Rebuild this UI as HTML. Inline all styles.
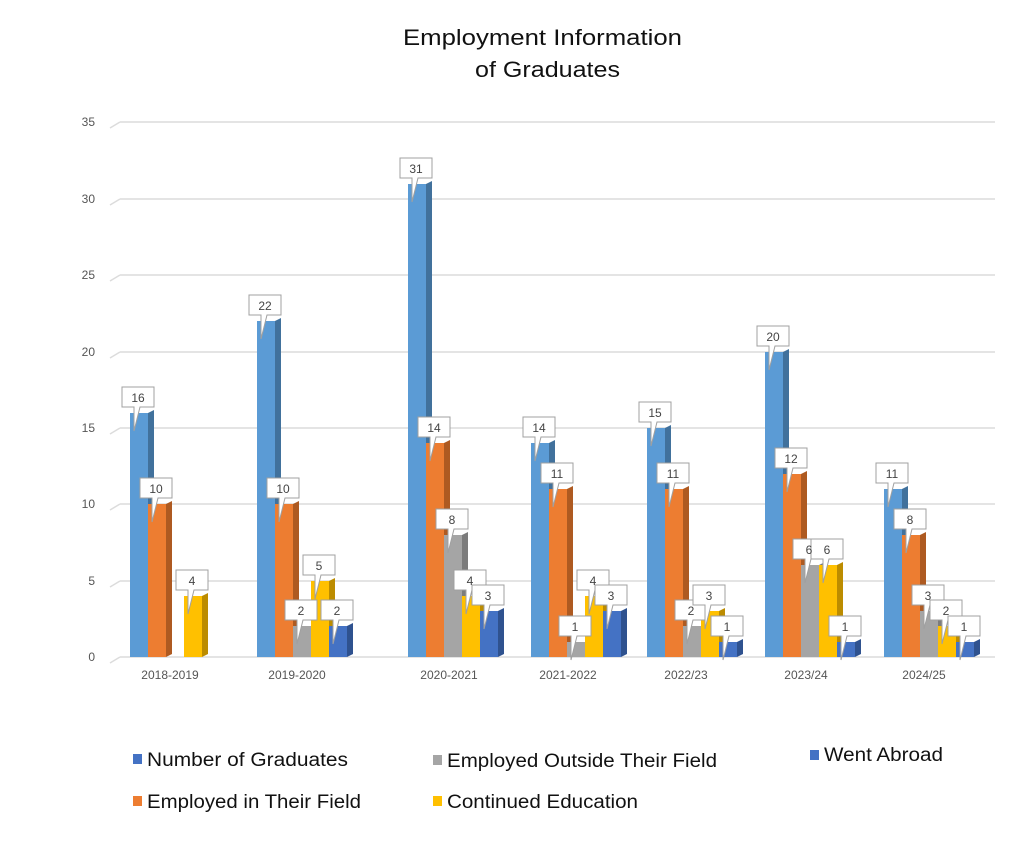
<!DOCTYPE html>
<html><head><meta charset="utf-8"><style>
body{margin:0;background:#fff;width:1036px;height:845px;overflow:hidden;font-family:"Liberation Sans",sans-serif}
</style></head><body>
<svg width="1036" height="845" viewBox="0 0 1036 845" xmlns="http://www.w3.org/2000/svg" font-family="Liberation Sans, sans-serif">
<defs>
<path id="co" d="M-8,-26 h32 v20 h-14 l-6,24 l0,-24 h-12 z" fill="#fff" stroke="#a0a0a0" stroke-width="1"/>
</defs>
<text x="403" y="45" font-size="22" fill="#111" textLength="279" lengthAdjust="spacingAndGlyphs">Employment Information</text>
<text x="475" y="77" font-size="22" fill="#111" textLength="145" lengthAdjust="spacingAndGlyphs">of Graduates</text>
<g stroke="#dcdcdc" stroke-width="1.5" fill="none">
<path d="M120,657H995M110,663L120,657"/><path d="M120,581H995M110,587L120,581"/><path d="M120,504H995M110,510L120,504"/><path d="M120,428H995M110,434L120,428"/><path d="M120,352H995M110,358L120,352"/><path d="M120,275H995M110,281L120,275"/><path d="M120,199H995M110,205L120,199"/><path d="M120,122H995M110,128L120,122"/>
</g>
<g font-size="12" fill="#555" text-anchor="end">
<text x="95" y="661">0</text><text x="95" y="585">5</text><text x="95" y="508">10</text><text x="95" y="432">15</text><text x="95" y="356">20</text><text x="95" y="279">25</text><text x="95" y="203">30</text><text x="95" y="126">35</text>
</g>
<g font-size="12" fill="#555" text-anchor="middle">
<text x="170" y="679">2018-2019</text><text x="297" y="679">2019-2020</text><text x="449" y="679">2020-2021</text><text x="568" y="679">2021-2022</text><text x="686" y="679">2022/23</text><text x="806" y="679">2023/24</text><text x="924" y="679">2024/25</text>
</g>
<g id="bars">
<polygon points="148,413 154,410 154,654 148,657" fill="#41719c"/><rect x="130" y="413" width="18" height="244" fill="#5b9bd5"/>
<polygon points="166,504 172,501 172,654 166,657" fill="#ae5a21"/><rect x="148" y="504" width="18" height="153" fill="#ed7d31"/>
<polygon points="202,596 208,593 208,654 202,657" fill="#bc8c00"/><rect x="184" y="596" width="18" height="61" fill="#ffc000"/>
<polygon points="275,321 281,318 281,654 275,657" fill="#41719c"/><rect x="257" y="321" width="18" height="336" fill="#5b9bd5"/>
<polygon points="293,504 299,501 299,654 293,657" fill="#ae5a21"/><rect x="275" y="504" width="18" height="153" fill="#ed7d31"/>
<polygon points="311,626 317,623 317,654 311,657" fill="#7c7c7c"/><rect x="293" y="626" width="18" height="31" fill="#a5a5a5"/>
<polygon points="329,581 335,578 335,654 329,657" fill="#bc8c00"/><rect x="311" y="581" width="18" height="76" fill="#ffc000"/>
<polygon points="347,626 353,623 353,654 347,657" fill="#2f528f"/><rect x="329" y="626" width="18" height="31" fill="#4472c4"/>
<polygon points="426,184 432,181 432,654 426,657" fill="#41719c"/><rect x="408" y="184" width="18" height="473" fill="#5b9bd5"/>
<polygon points="444,443 450,440 450,654 444,657" fill="#ae5a21"/><rect x="426" y="443" width="18" height="214" fill="#ed7d31"/>
<polygon points="462,535 468,532 468,654 462,657" fill="#7c7c7c"/><rect x="444" y="535" width="18" height="122" fill="#a5a5a5"/>
<polygon points="480,596 486,593 486,654 480,657" fill="#bc8c00"/><rect x="462" y="596" width="18" height="61" fill="#ffc000"/>
<polygon points="498,611 504,608 504,654 498,657" fill="#2f528f"/><rect x="480" y="611" width="18" height="46" fill="#4472c4"/>
<polygon points="549,443 555,440 555,654 549,657" fill="#41719c"/><rect x="531" y="443" width="18" height="214" fill="#5b9bd5"/>
<polygon points="567,489 573,486 573,654 567,657" fill="#ae5a21"/><rect x="549" y="489" width="18" height="168" fill="#ed7d31"/>
<polygon points="585,642 591,639 591,654 585,657" fill="#7c7c7c"/><rect x="567" y="642" width="18" height="15" fill="#a5a5a5"/>
<polygon points="603,596 609,593 609,654 603,657" fill="#bc8c00"/><rect x="585" y="596" width="18" height="61" fill="#ffc000"/>
<polygon points="621,611 627,608 627,654 621,657" fill="#2f528f"/><rect x="603" y="611" width="18" height="46" fill="#4472c4"/>
<polygon points="665,428 671,425 671,654 665,657" fill="#41719c"/><rect x="647" y="428" width="18" height="229" fill="#5b9bd5"/>
<polygon points="683,489 689,486 689,654 683,657" fill="#ae5a21"/><rect x="665" y="489" width="18" height="168" fill="#ed7d31"/>
<polygon points="701,626 707,623 707,654 701,657" fill="#7c7c7c"/><rect x="683" y="626" width="18" height="31" fill="#a5a5a5"/>
<polygon points="719,611 725,608 725,654 719,657" fill="#bc8c00"/><rect x="701" y="611" width="18" height="46" fill="#ffc000"/>
<polygon points="737,642 743,639 743,654 737,657" fill="#2f528f"/><rect x="719" y="642" width="18" height="15" fill="#4472c4"/>
<polygon points="783,352 789,349 789,654 783,657" fill="#41719c"/><rect x="765" y="352" width="18" height="305" fill="#5b9bd5"/>
<polygon points="801,474 807,471 807,654 801,657" fill="#ae5a21"/><rect x="783" y="474" width="18" height="183" fill="#ed7d31"/>
<polygon points="819,565 825,562 825,654 819,657" fill="#7c7c7c"/><rect x="801" y="565" width="18" height="92" fill="#a5a5a5"/>
<polygon points="837,565 843,562 843,654 837,657" fill="#bc8c00"/><rect x="819" y="565" width="18" height="92" fill="#ffc000"/>
<polygon points="855,642 861,639 861,654 855,657" fill="#2f528f"/><rect x="837" y="642" width="18" height="15" fill="#4472c4"/>
<polygon points="902,489 908,486 908,654 902,657" fill="#41719c"/><rect x="884" y="489" width="18" height="168" fill="#5b9bd5"/>
<polygon points="920,535 926,532 926,654 920,657" fill="#ae5a21"/><rect x="902" y="535" width="18" height="122" fill="#ed7d31"/>
<polygon points="938,611 944,608 944,654 938,657" fill="#7c7c7c"/><rect x="920" y="611" width="18" height="46" fill="#a5a5a5"/>
<polygon points="956,626 962,623 962,654 956,657" fill="#bc8c00"/><rect x="938" y="626" width="18" height="31" fill="#ffc000"/>
<polygon points="974,642 980,639 980,654 974,657" fill="#2f528f"/><rect x="956" y="642" width="18" height="15" fill="#4472c4"/>
</g>
<g>
<use href="#co" x="130" y="413"/><use href="#co" x="148" y="504"/><use href="#co" x="184" y="596"/>
<use href="#co" x="257" y="321"/><use href="#co" x="275" y="504"/><use href="#co" x="293" y="626"/><use href="#co" x="311" y="581"/><use href="#co" x="329" y="626"/>
<use href="#co" x="408" y="184"/><use href="#co" x="426" y="443"/><use href="#co" x="444" y="535"/><use href="#co" x="462" y="596"/><use href="#co" x="480" y="611"/>
<use href="#co" x="531" y="443"/><use href="#co" x="549" y="489"/><use href="#co" x="567" y="642"/><use href="#co" x="585" y="596"/><use href="#co" x="603" y="611"/>
<use href="#co" x="647" y="428"/><use href="#co" x="665" y="489"/><use href="#co" x="683" y="626"/><use href="#co" x="701" y="611"/><use href="#co" x="719" y="642"/>
<use href="#co" x="765" y="352"/><use href="#co" x="783" y="474"/><use href="#co" x="801" y="565"/><use href="#co" x="819" y="565"/><use href="#co" x="837" y="642"/>
<use href="#co" x="884" y="489"/><use href="#co" x="902" y="535"/><use href="#co" x="920" y="611"/><use href="#co" x="938" y="626"/><use href="#co" x="956" y="642"/>
</g>
<g font-size="12" fill="#444" text-anchor="middle">
<text x="138" y="402">16</text><text x="156" y="493">10</text><text x="192" y="585">4</text>
<text x="265" y="310">22</text><text x="283" y="493">10</text><text x="301" y="615">2</text><text x="319" y="570">5</text><text x="337" y="615">2</text>
<text x="416" y="173">31</text><text x="434" y="432">14</text><text x="452" y="524">8</text><text x="470" y="585">4</text><text x="488" y="600">3</text>
<text x="539" y="432">14</text><text x="557" y="478">11</text><text x="575" y="631">1</text><text x="593" y="585">4</text><text x="611" y="600">3</text>
<text x="655" y="417">15</text><text x="673" y="478">11</text><text x="691" y="615">2</text><text x="709" y="600">3</text><text x="727" y="631">1</text>
<text x="773" y="341">20</text><text x="791" y="463">12</text><text x="809" y="554">6</text><text x="827" y="554">6</text><text x="845" y="631">1</text>
<text x="892" y="478">11</text><text x="910" y="524">8</text><text x="928" y="600">3</text><text x="946" y="615">2</text><text x="964" y="631">1</text>
</g>
<g font-size="19" fill="#111">
<rect x="133" y="754" width="9" height="10" fill="#4472c4"/><text x="147" y="766" textLength="201" lengthAdjust="spacingAndGlyphs">Number of Graduates</text>
<rect x="133" y="796" width="9" height="10" fill="#ed7d31"/><text x="147" y="808" textLength="214" lengthAdjust="spacingAndGlyphs">Employed in Their Field</text>
<rect x="433" y="755" width="9" height="10" fill="#a5a5a5"/><text x="447" y="767" textLength="270" lengthAdjust="spacingAndGlyphs">Employed Outside Their Field</text>
<rect x="433" y="796" width="9" height="10" fill="#ffc000"/><text x="447" y="808" textLength="191" lengthAdjust="spacingAndGlyphs">Continued Education</text>
<rect x="810" y="750" width="9" height="10" fill="#4472c4"/><text x="824" y="761" textLength="119" lengthAdjust="spacingAndGlyphs">Went Abroad</text>
</g>
</svg>
</body></html>
